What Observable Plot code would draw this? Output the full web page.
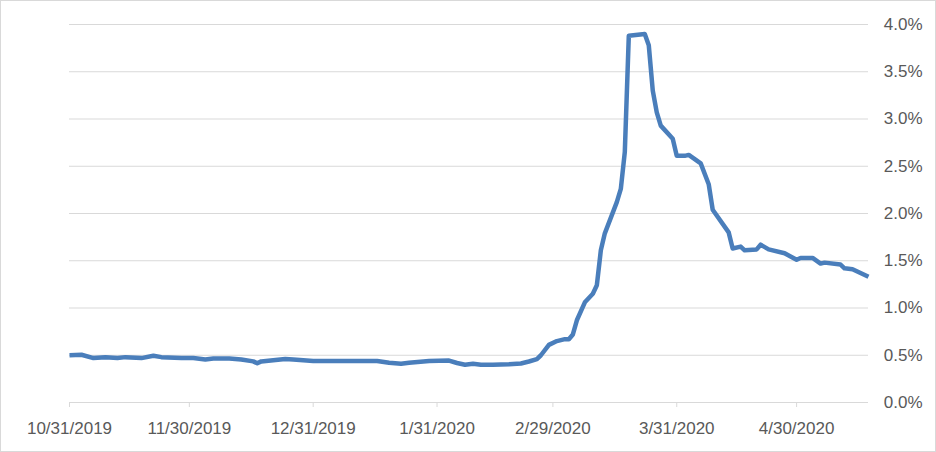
<!DOCTYPE html>
<html>
<head>
<meta charset="utf-8">
<script src="https://cdn.jsdelivr.net/npm/d3@7"></script>
<script src="https://cdn.jsdelivr.net/npm/@observablehq/plot@0.6"></script>
<style>
  html, body { margin: 0; padding: 0; background: #fff; }
  #wrap { position: relative; width: 936px; height: 452px; overflow: hidden; }
  #frame { position: absolute; left: 0; top: 0; width: 936px; height: 452px; box-sizing: border-box; border: 1px solid #d9d9d9; pointer-events: none; }
</style>
</head>
<body>
<div id="wrap"><div id="chart"></div><div id="frame"></div></div>
<script>
// Dates of the line's vertices
const dates = [
  "2019-10-31","2019-11-03","2019-11-06","2019-11-09","2019-11-12","2019-11-14","2019-11-18","2019-11-21","2019-11-23","2019-11-28",
  "2019-12-01","2019-12-04","2019-12-06","2019-12-10","2019-12-13","2019-12-16","2019-12-17","2019-12-18","2019-12-21","2019-12-24",
  "2019-12-26","2019-12-31","2020-01-16","2020-01-19","2020-01-22","2020-01-24","2020-01-29","2020-02-03","2020-02-05","2020-02-07",
  "2020-02-09","2020-02-11","2020-02-14","2020-02-18","2020-02-21","2020-02-23","2020-02-25","2020-02-26","2020-02-28","2020-03-01",
  "2020-03-03","2020-03-04","2020-03-05","2020-03-06","2020-03-08","2020-03-10","2020-03-11","2020-03-12","2020-03-13","2020-03-16",
  "2020-03-17","2020-03-18","2020-03-19","2020-03-23","2020-03-24","2020-03-25","2020-03-26","2020-03-27","2020-03-30","2020-03-31",
  "2020-04-02","2020-04-03","2020-04-06","2020-04-08","2020-04-09","2020-04-13","2020-04-14","2020-04-16","2020-04-17","2020-04-20",
  "2020-04-21","2020-04-23","2020-04-27","2020-04-30","2020-05-01","2020-05-04","2020-05-06","2020-05-07","2020-05-11","2020-05-12",
  "2020-05-14","2020-05-18"
];
// Values in percent
const values = [
  0.50,0.505,0.47,0.48,0.47,0.48,0.47,0.495,0.48,0.47,
  0.47,0.455,0.465,0.465,0.455,0.435,0.415,0.435,0.448,0.46,
  0.455,0.44,0.44,0.42,0.41,0.42,0.44,0.444,0.418,0.40,
  0.41,0.40,0.40,0.405,0.413,0.434,0.46,0.50,0.61,0.65,
  0.67,0.67,0.72,0.87,1.06,1.15,1.24,1.61,1.79,2.12,
  2.26,2.65,3.88,3.90,3.78,3.30,3.07,2.93,2.79,2.61,
  2.61,2.62,2.53,2.31,2.04,1.80,1.63,1.65,1.61,1.62,
  1.67,1.62,1.58,1.51,1.53,1.53,1.47,1.48,1.46,1.42,
  1.41,1.33
];
const xTickDates = ["2019-10-31","2019-11-30","2019-12-31","2020-01-31","2020-02-29","2020-03-31","2020-04-30"];
const yTicks = [0,0.5,1,1.5,2,2.5,3,3.5,4];
const xDomain = ["2019-10-31","2020-05-18"];

const parse = d3.utcParse("%Y-%m-%d");
const data = dates.map((d, i) => ({date: parse(d), value: values[i]}));
const fmt = d3.utcFormat("%-m/%-d/%Y");

const chart = Plot.plot({
  width: 936,
  height: 452,
  marginLeft: 69,
  marginRight: 68,
  marginTop: 24,
  marginBottom: 50,
  style: {fontFamily: "'Liberation Sans', Arial, sans-serif", fontSize: "17px", color: "#595959", background: "#fff"},
  x: {type: "utc", domain: xDomain.map(parse)},
  y: {domain: [0, 4]},
  marks: [
    Plot.gridY(yTicks.filter(v => v > 0), {stroke: "#d9d9d9", strokeOpacity: 1, strokeWidth: 1}),
    Plot.ruleY([0], {stroke: "#d9d9d9", strokeWidth: 1}),
    Plot.axisX(xTickDates.map(parse), {tickSize: 5, tickPadding: 14, stroke: "#d9d9d9", fill: "#595959", tickFormat: fmt, label: null}),
    Plot.axisY(yTicks, {anchor: "right", tickSize: 0, tickPadding: 54, textAnchor: "end", fill: "#595959", tickFormat: d => d.toFixed(1) + "%", label: null}),
    Plot.line(data, {x: "date", y: "value", stroke: "#4a7ebb", strokeWidth: 4.5, strokeLinejoin: "round", strokeLinecap: "butt"})
  ]
});
document.getElementById("chart").appendChild(chart);
</script>
</body>
</html>
